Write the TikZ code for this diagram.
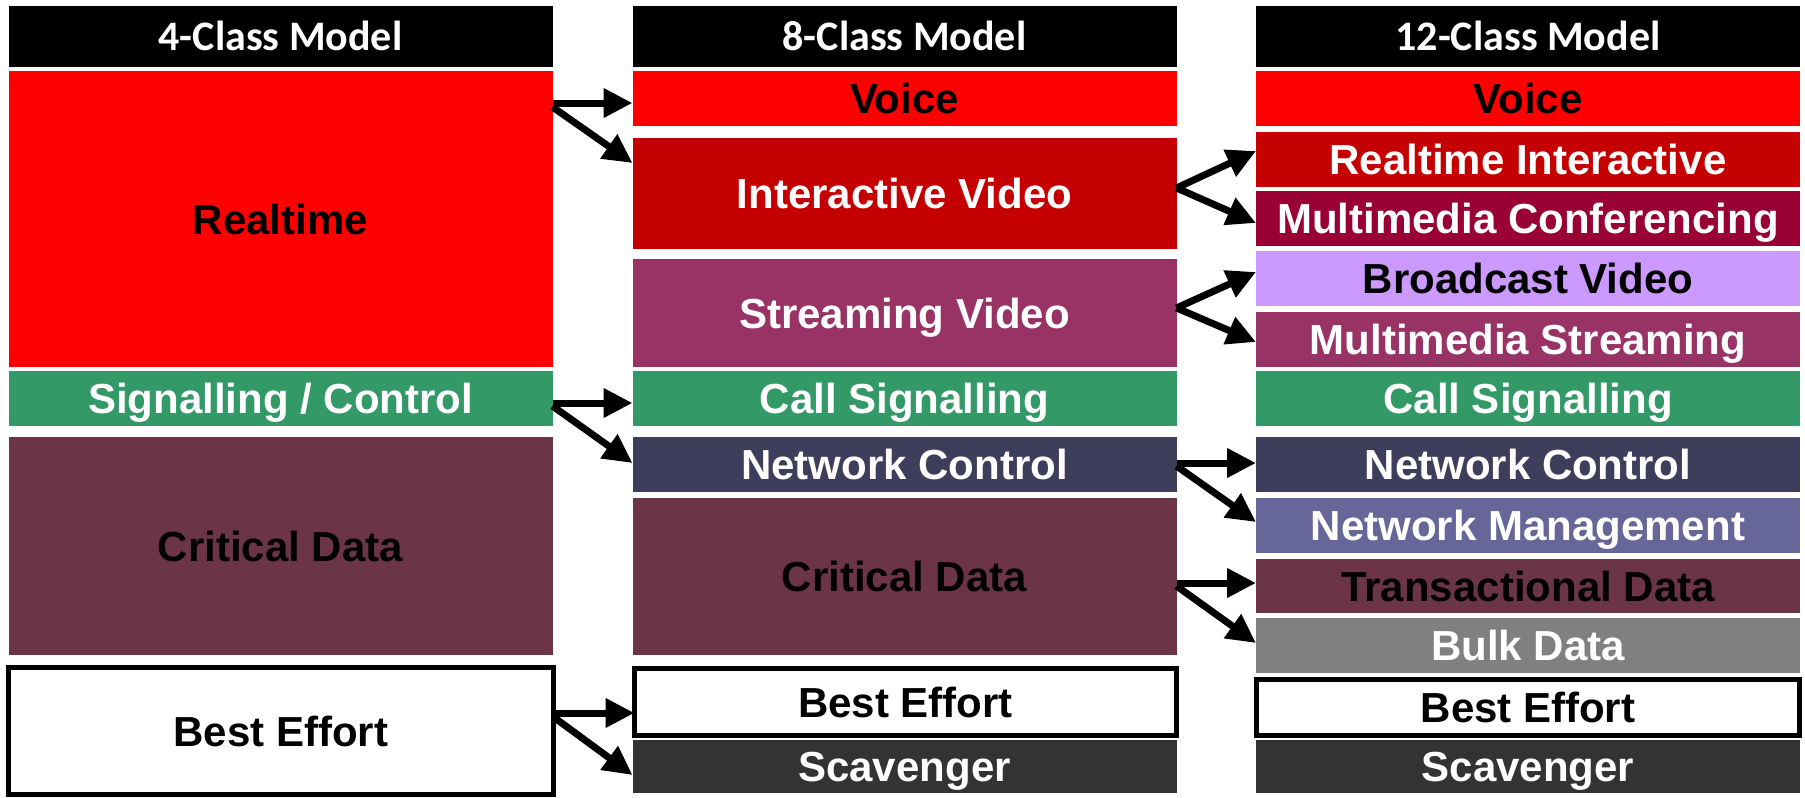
\documentclass[tikz,border=0pt]{standalone}
\usepackage{fontspec}
\setmainfont{Liberation Sans}
\newfontfamily\headfont{Carlito}
\usetikzlibrary{arrows.meta}

\definecolor{rtred}{HTML}{FF0000}
\definecolor{ivred}{HTML}{C40000}
\definecolor{mcwine}{HTML}{990033}
\definecolor{bvlilac}{HTML}{CC99FF}
\definecolor{svplum}{HTML}{993366}
\definecolor{sigreen}{HTML}{339966}
\definecolor{ncnavy}{HTML}{3D3D5C}
\definecolor{nmslate}{HTML}{666699}
\definecolor{cdmaroon}{HTML}{6B3547}
\definecolor{bdgray}{HTML}{808080}
\definecolor{scgray}{HTML}{333333}

\begin{document}
\begin{tikzpicture}[
    x=0.5pt, y=-0.5pt,
    cls/.style={minimum width=272pt, inner sep=0pt, outer sep=0pt,
                text height=15pt, text depth=0pt,
                font=\fontsize{21pt}{24pt}\selectfont\bfseries},
    hdr/.style={cls, fill=black, text=white, minimum height=30.5pt,
                text height=13.5pt,
                font=\fontsize{21pt}{24pt}\headfont\bfseries},
    light/.style={text=white},
    boxed/.style={cls, draw=black, line width=2.5pt, fill=white},
    link/.style={-{Triangle[length=14.5pt,width=14pt]}, line width=3.5pt},
  ]
    \useasboundingbox (0,0) rectangle (1805,798);

    % headers
    \node[hdr] (h4)  at (280.5,36.5) {4-Class Model};
    \node[hdr] (h8)  at (904.5,36.5) {8-Class Model};
    \node[hdr] (h12) at (1528,36.5)  {12-Class Model};

    % 4-class model
    \node[cls, fill=rtred, minimum height=148pt] (rt) at (280.5,219) {Realtime};
    \node[cls, light, fill=sigreen, minimum height=27.5pt] (sc) at (280.5,398.5) {Signalling / Control};
    \node[cls, fill=cdmaroon, minimum height=109pt] (cd4) at (280.5,546) {Critical Data};
    \node[boxed, minimum width=272.5pt, minimum height=63.5pt] (be4) at (281,731) {Best Effort};

    % 8-class model
    \node[cls, fill=rtred, minimum height=27.5pt] (v8) at (904.5,98.5) {Voice};
    \node[cls, light, fill=ivred, minimum height=55.5pt] (iv8) at (904.5,193.5) {Interactive Video};
    \node[cls, light, fill=svplum, minimum height=54pt] (sv8) at (904.5,313) {Streaming Video};
    \node[cls, light, fill=sigreen, minimum height=27.5pt] (cs8) at (904.5,398.5) {Call Signalling};
    \node[cls, light, fill=ncnavy, minimum height=27.5pt] (nc8) at (904.5,464.5) {Network Control};
    \node[cls, fill=cdmaroon, minimum height=78.5pt] (cd8) at (904.5,576.5) {Critical Data};
    \node[boxed, minimum width=271pt, minimum height=33.5pt] (be8) at (905.5,702) {Best Effort};
    \node[cls, light, fill=scgray, minimum height=26.5pt] (sg8) at (904.5,766.5) {Scavenger};

    % 12-class model
    \node[cls, fill=rtred, minimum height=27.5pt] (v12) at (1528,98.5) {Voice};
    \node[cls, light, fill=ivred, minimum height=27.5pt] (ri12) at (1528,159.5) {Realtime Interactive};
    \node[cls, light, fill=mcwine, minimum height=27.5pt] (mc12) at (1528,218.5) {Multimedia Conferencing};
    \node[cls, fill=bvlilac, minimum height=27.5pt] (bv12) at (1528,278.5) {Broadcast Video};
    \node[cls, light, fill=svplum, minimum height=27.5pt] (ms12) at (1528,339.5) {Multimedia Streaming};
    \node[cls, light, fill=sigreen, minimum height=27.5pt] (cs12) at (1528,398.5) {Call Signalling};
    \node[cls, light, fill=ncnavy, minimum height=27.5pt] (nc12) at (1528,464.5) {Network Control};
    \node[cls, light, fill=nmslate, minimum height=27.5pt] (nm12) at (1528,525.5) {Network Management};
    \node[cls, fill=cdmaroon, minimum height=27pt] (td12) at (1528,586) {Transactional Data};
    \node[cls, light, fill=bdgray, minimum height=27.5pt] (bd12) at (1528,645.5) {Bulk Data};
    \node[boxed, minimum width=271.5pt, minimum height=28pt] (be12) at (1528,707.5) {Best Effort};
    \node[cls, light, fill=scgray, minimum height=26.5pt] (sg12) at (1528,766.5) {Scavenger};

    % 4 -> 8
    \draw[link] ([yshift=58pt]rt.east) -- ([yshift=-2.25pt]v8.west);
    \draw[link] ([yshift=56pt]rt.east) -- ([yshift=15.25pt]iv8.west);
    \draw[link] ([yshift=-2.25pt]sc.east) -- ([yshift=-2.25pt]cs8.west);
    \draw[link] ([yshift=-3.75pt]sc.east) -- ([yshift=0.75pt]nc8.west);
    \draw[link] ([yshift=9pt]be4.east) -- ([yshift=-5.5pt]be8.west);
    \draw[link] ([yshift=7pt]be4.east) -- ([yshift=-4.25pt]sg8.west);

    % 8 -> 12
    \draw[link] ([yshift=2.75pt]iv8.east) -- ([yshift=4.25pt]ri12.west);
    \draw[link] ([yshift=2.75pt]iv8.east) -- ([yshift=-2.25pt]mc12.west);
    \draw[link] ([yshift=2.5pt]sv8.east) -- ([yshift=3.25pt]bv12.west);
    \draw[link] ([yshift=2.5pt]sv8.east) -- ([yshift=-1.25pt]ms12.west);
    \draw[link] ([yshift=0.75pt]nc8.east) -- ([yshift=0.75pt]nc12.west);
    \draw[link] ([yshift=-0.75pt]nc8.east) -- ([yshift=1.75pt]nm12.west);
    \draw[link] ([yshift=-3.25pt]cd8.east) -- ([yshift=1.5pt]td12.west);
    \draw[link] ([yshift=-4.75pt]cd8.east) -- ([yshift=1.25pt]bd12.west);
  \end{tikzpicture}
\end{document}
